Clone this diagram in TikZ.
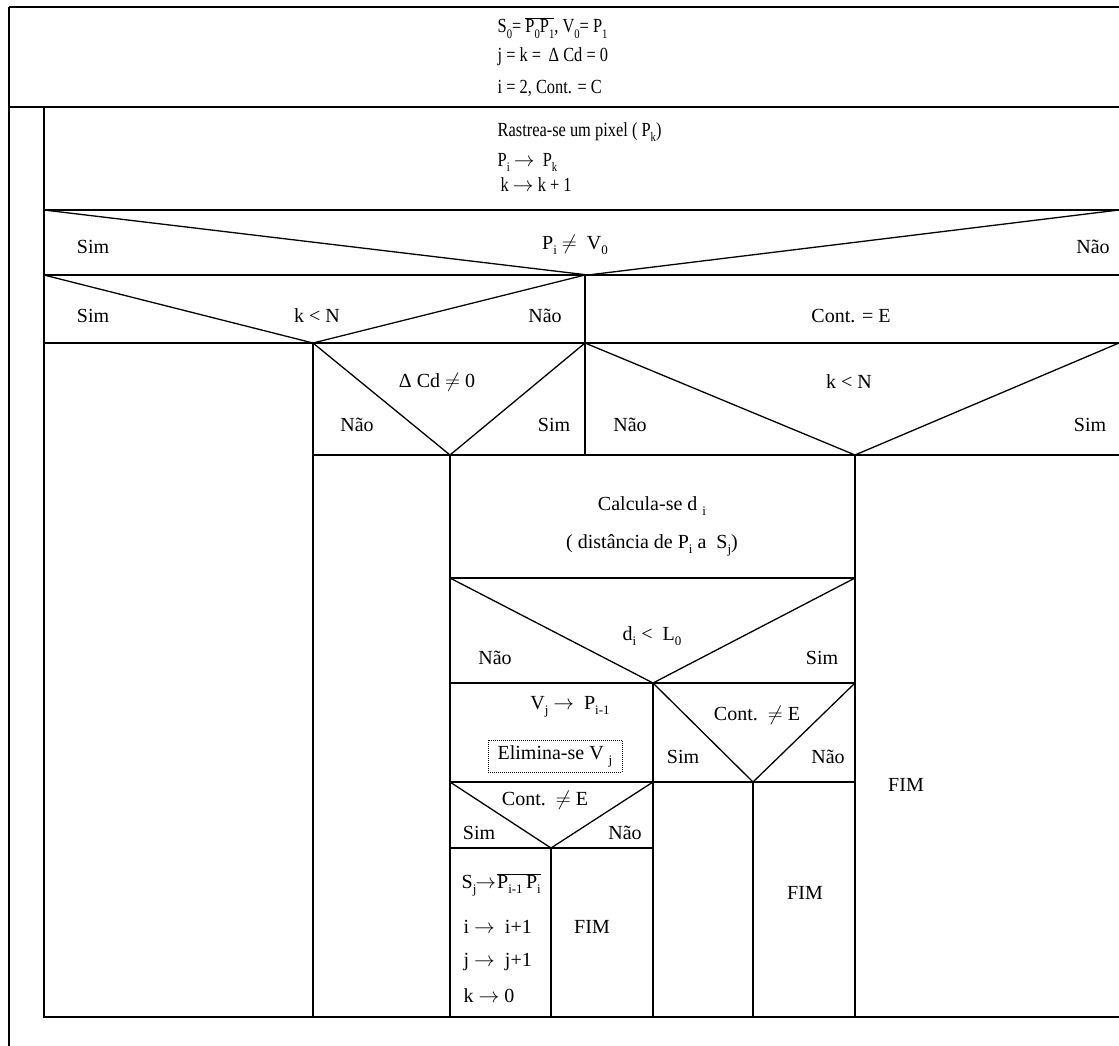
\documentclass[tikz,border=0pt]{standalone}
\usepackage{fontspec}
\setmainfont{Liberation Serif}
\newfontfamily\condfont[FakeStretch=0.82]{Liberation Serif}
\newcommand{\sbs}[1]{\raisebox{-0.55ex}{\fontsize{13}{13}\selectfont #1}}
\begin{document}
\begin{tikzpicture}[x=1pt,y=-1pt,line width=1.3pt,
  every node/.style={inner sep=0pt,font=\fontsize{20}{24}\selectfont},
  toptxt/.style={anchor=west,font=\condfont\fontsize{20}{24}\selectfont},
  lefttxt/.style={anchor=west},
  dotbox/.style={draw,densely dotted,line width=1pt,minimum width=134pt,minimum height=32pt}]
\useasboundingbox (0,0) rectangle (1119,1046);
% frame
\draw (9,7) -- (1119,7);
\draw (9,7) -- (9,1046);
\draw (9,107) -- (1119,107);
\draw (44,107) -- (44,1017) -- (1119,1017);
% decision 1
\draw (44,210) -- (1119,210);
\draw (44,210) -- (588,275) -- (1119,210);
\draw (44,275) -- (1119,275);
% decision 2
\draw (44,275) -- (313,343) -- (585,275);
\draw (585,275) -- (585,455);
\draw (44,343) -- (1119,343);
% decisions 3 and 4
\draw (313,343) -- (450,455) -- (585,343) -- (855,455) -- (1119,343);
\draw (313,343) -- (313,1017);
\draw (313,455) -- (1119,455);
\draw (450,455) -- (450,1017);
\draw (855,455) -- (855,1017);
% decision 5
\draw (450,578) -- (855,578);
\draw (450,578) -- (653,683) -- (855,578);
\draw (450,683) -- (855,683);
% decision 6
\draw (653,683) -- (753,782) -- (855,683);
\draw (653,683) -- (653,1017);
\draw (450,782) -- (855,782);
\draw (753,782) -- (753,1017);
% decision 7
\draw (450,782) -- (551,848) -- (653,782);
\draw (450,848) -- (653,848);
\draw (551,848) -- (551,1017);
% top texts
\node[toptxt] (t1) at (497,28) {S\sbs{0}= $\overline{\mbox{P\sbs{0}P\sbs{1}}}$, V\sbs{0}= P\sbs{1}};
\node[toptxt] (t2) at (497,57) {j = k = \,Δ Cd = 0};
\node[toptxt] (t3) at (497,88) {i = 2, Cont. = C};
\node[toptxt] (r1) at (497,132) {Rastrea-se um pixel ( P\sbs{k})};
\node[toptxt] (r2) at (497,162) {P\sbs{i} $\rightarrow$\ \ P\sbs{k}};
\node[toptxt] (r3) at (500,185) {k $\rightarrow$ k + 1};
% row 1
\node (s1) at (93,247) {Sim};
\node (c1) at (575,245) {P\sbs{i} $\neq$\ \ V\sbs{0}};
\node (n1) at (1093,247) {Não};
% row 2
\node (s2) at (93,316) {Sim};
\node (c2) at (317,316) {k < N};
\node (n2) at (545,316) {Não};
\node (e2) at (851,316) {Cont. = E};
% row 3
\node (c3) at (437,382) {Δ Cd $\neq$ 0};
\node (n3) at (357,425) {Não};
\node (s3) at (554,425) {Sim};
\node (n4) at (630,425) {Não};
\node (c4) at (849,382) {k < N};
\node (s4) at (1090,425) {Sim};
% calc
\node (k1) at (652,506) {Calcula-se d \sbs{i}};
\node (k2) at (652,545) {( distância de P\sbs{i} a\ \ S\sbs{j})};
% decision 5
\node (c5) at (652,636) {d\sbs{i} <\ \ L\sbs{0}};
\node (n5) at (495,658) {Não};
\node (s5) at (822,658) {Sim};
% left block
\node (v1) at (570,707) {V\sbs{j} $\rightarrow$\ \ P\sbs{i-1}};
\node[dotbox] (el) at (555,756) {Elimina-se V \sbs{j}};
% decision 6
\node (c6) at (757,715) {Cont.\ \ $\neq$ E};
\node (s6) at (683,757) {Sim};
\node (n6) at (828,757) {Não};
% decision 7
\node (c7) at (545,800) {Cont.\ \ $\neq$ E};
\node (s7) at (479,833) {Sim};
\node (n7) at (625,833) {Não};
% list
\node[lefttxt] (l1) at (461,885) {S\sbs{j}\hspace{-1pt}$\rightarrow$\hspace{1pt}$\overline{\mbox{P\sbs{i-1}\,P\sbs{i}}}$};
\node[lefttxt] (l2) at (463,927) {i $\rightarrow$\ \ i+1};
\node[lefttxt] (l3) at (463,962) {j $\rightarrow$\ \ j+1};
\node[lefttxt] (l4) at (463,996) {k $\rightarrow$ 0};
% FIM
\node (f1) at (592,927) {FIM};
\node (f2) at (805,893) {FIM};
\node (f3) at (906,785) {FIM};
\end{tikzpicture}
\end{document}
